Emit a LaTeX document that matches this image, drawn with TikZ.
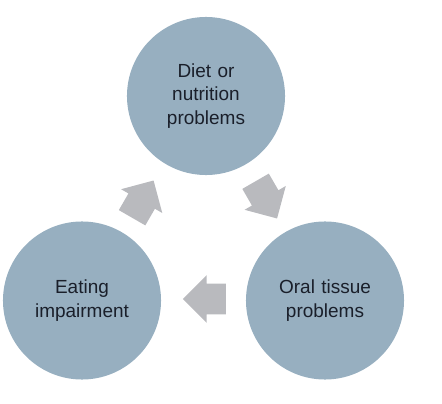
\documentclass[tikz,border=0pt]{standalone}
\usepackage{fontspec}
\setmainfont{Liberation Sans}
\usepackage{xcolor}
\usetikzlibrary{shapes.arrows,calc}
\definecolor{StageBlue}{HTML}{97AFC0}
\definecolor{CycleGrey}{HTML}{B9BABE}
\definecolor{InkDark}{HTML}{1A1F2A}

\begin{document}
\begin{tikzpicture}[x=0.025cm,y=0.025cm,
    stage/.style={circle,fill=StageBlue,minimum size=3.95cm,inner sep=0pt,
          text width=3.1cm,align=center,text=InkDark,
          font=\fontsize{13.5}{16.5}\selectfont},
    cycle/.style={single arrow,fill=CycleGrey,inner xsep=0pt,inner ysep=0.375cm,
          minimum height=1.075cm,minimum width=1.175cm,
          single arrow head extend=0.2125cm,single arrow tip angle=90}]
    \useasboundingbox (0,0) rectangle (442,403);
    \node[stage] (diet) at (206,307) {Diet or\\nutrition\\problems};
    \node[stage] (oral) at (325,102.5) {Oral tissue\\problems};
    \node[stage] (eating) at (82,102.5) {Eating\\impairment};
    \node[cycle,rotate=-60] (dietoral) at ($(diet)!0.5!(oral)+(-3,5)$) {};
    \node[cycle,rotate=180] (oraleating) at ($(oral)!0.5!(eating)+(8.5,1.5)$) {};
    \node[cycle,rotate=60] (eatingdiet) at ($(eating)!0.5!(diet)+(-5,-7.5)$) {};
  \end{tikzpicture}
\end{document}
